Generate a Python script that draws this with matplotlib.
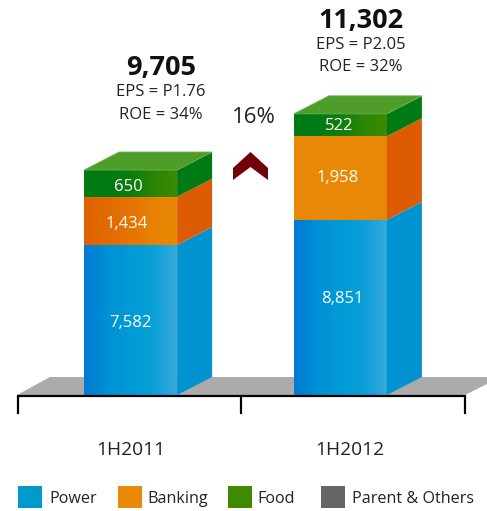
import numpy as np
import matplotlib
matplotlib.use("Agg")
import matplotlib.pyplot as plt
from matplotlib.colors import LinearSegmentedColormap as LSC
from matplotlib.patches import Polygon, Rectangle

periods = ["1H2011", "1H2012"]
totals = ["9,705", "11,302"]
eps = ["EPS = P1.76", "EPS = P2.05"]
roe = ["ROE = 34%", "ROE = 32%"]
power_labels = ["7,582", "8,851"]
banking_labels = ["1,434", "1,958"]
food_labels = ["650", "522"]
# drawn segment heights (the original is not to scale)
power_heights = [7582, 8851]
banking_heights = [2440, 4230]
food_heights = [1350, 1130]
legend_names = ["Power", "Banking", "Food", "Parent & Others"]
legend_colors = ["#0099CC", "#EA8807", "#3E8A00", "#666666"]
growth = "16%"

W, H, BASE = 487, 511, 395
K = 7582 / 150.0  # value units per pixel
TXT = 2  # text vertical nudge, px
plt.rcParams["font.family"] = ["Open Sans", "DejaVu Sans"]
fig = plt.figure(figsize=(W / 100, H / 100), dpi=100)
ax = fig.add_axes([0, 0, 1, 1])
ax.set_xlim(0, W)
ax.set_ylim(-(H - BASE) * K, BASE * K)
ax.axis("off")


def py(p):
    return (BASE - p) * K


GRAD = {
    "power": [["#007AD2", "#0090D6", "#009BD6", "#0AA0D8", "#38A9DC"], ["#007AD2", "#0090D6", "#009BD6", "#0AA0D8", "#38A9DC"]],
    "banking": [["#DF6000", "#E26A00", "#E57400", "#E88200", "#E98805"], ["#EA8807", "#EA8807", "#EA8807", "#EA8807", "#EA8807"]],
    "food": [["#007A14", "#007A10", "#0A7D0C", "#2A8506", "#3E8A00"], ["#007A14", "#007A14", "#0F7F0C", "#2D8606", "#3E8A00"]],
}
SIDE = {"power": "#0093D0", "banking": "#DD5C03", "food": "#007A14"}
centers = [130.6, 340.4]
width = 93
dx, dy = 35, 18 * K
label_px = {"power": [(130, 321), (342, 297)], "banking": [(127, 222), (338, 176)], "food": [(128, 185), (339, 125)]}
head_x = [161, 361]
head_y = [(66, 91, 114), (19, 44, 66)]
period_x = [131, 349.5]

# floor
ax.add_patch(Polygon([(17, py(395)), (50, py(377)), (W, py(377)), (W, py(384)), (465, py(395))],
                     fc="#ABABAB", ec="none", zorder=1))

for i, c in enumerate(centers):
    x0, x1 = c - width / 2, c + width / 2
    bottom = 0
    for key, vals, labs in (("power", power_heights, power_labels),
                            ("banking", banking_heights, banking_labels),
                            ("food", food_heights, food_labels)):
        h = vals[i]
        top = bottom + h
        cm = LSC.from_list(key, GRAD[key][i])
        ax.imshow(np.linspace(0, 1, 256).reshape(1, -1), cmap=cm, extent=(x0, x1, bottom, top),
                  aspect="auto", zorder=3, interpolation="bilinear")
        ax.add_patch(Polygon([(x1, bottom), (x1 + dx, bottom + dy), (x1 + dx, top + dy), (x1, top)],
                             fc=SIDE[key], ec="none", zorder=3))
        lx, ly = label_px[key][i]
        ax.text(lx, py(ly + TXT - 0.5), labs[i], color="white", fontsize=12, ha="center", va="center", zorder=5)
        bottom = top
    ax.add_patch(Polygon([(x0, bottom), (x0 + dx, bottom + dy), (x1 + dx, bottom + dy), (x1, bottom)],
                         fc="#4E9D2A", ec="#6DAE50", lw=0.6, zorder=4))
    ty, ey, ry = head_y[i]
    ax.text(head_x[i], py(ty + TXT), totals[i], fontsize=19.5, fontweight="bold", color="#111111", ha="center", va="center")
    ax.text(head_x[i], py(ey + TXT - 1), eps[i], fontsize=12, color="#222222", ha="center", va="center")
    ax.text(head_x[i], py(ry + TXT - 1), roe[i], fontsize=12, color="#222222", ha="center", va="center")
    ax.text(period_x[i], py(449 + TXT - 1), periods[i], fontsize=13.8, color="#222222", ha="center", va="center")

# bracket axis
ax.plot([17.5, 17.5, 465, 465], [py(413), py(396), py(396), py(413)], color="black", lw=1.6,
        solid_joinstyle="miter", zorder=6)
ax.plot([241, 241], [py(396), py(413)], color="black", lw=1.6, zorder=6)

# growth marker
ax.text(254, py(116 + TXT - 1), growth, fontsize=16, color="#222222", ha="center", va="center")
ax.add_patch(Polygon([(233, py(168)), (250.5, py(152)), (268, py(168)), (268, py(180)), (250.5, py(167)), (233, py(180))],
                     fc="#720008", ec="none"))

# legend
for x, tx, name, col in zip([18, 118, 228, 321], [49.5, 147.5, 257.5, 352], legend_names, legend_colors):
    ax.add_patch(Rectangle((x, py(508)), 24, 22 * K, fc=col, ec="none"))
    ax.text(tx, py(499), name, fontsize=11.6, color="#222222", ha="left", va="center")

fig.savefig("out.png", dpi=100)
